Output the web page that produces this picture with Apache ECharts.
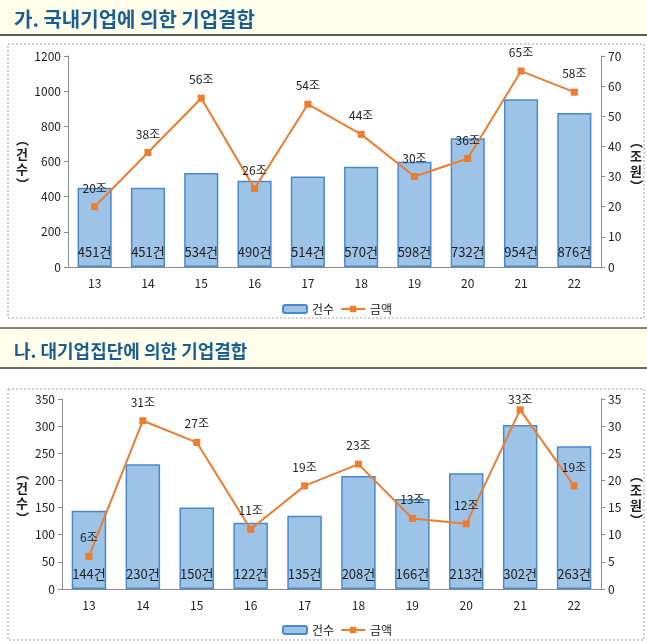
<!DOCTYPE html>
<html><head><meta charset="utf-8">
<script src="https://cdn.jsdelivr.net/npm/echarts@6/dist/echarts.min.js"></script>
<style>html,body{margin:0;padding:0;background:#fff}#c{width:647px;height:641px}</style>
</head><body><div id="c"></div>
<script>
const categories = ['13','14','15','16','17','18','19','20','21','22'];
const domesticCount = [451,451,534,490,514,570,598,732,954,876];
const domesticAmount = [20,38,56,26,54,44,30,36,65,58];
const groupCount = [144,230,150,122,135,208,166,213,302,263];
const groupAmount = [6,31,27,11,19,23,13,12,33,19];
const title1 = '가. 국내기업에 의한 기업결합';
const title2 = '나. 대기업집단에 의한 기업결합';
const countName = '건수';
const amountName = '금액';

const FONT = '"Noto Sans CJK KR", sans-serif';
const axisColor = '#8c8c8c';
const txt = '#222';

function yAxis(gi, min, max, interval, right) {
  return {
    type: 'value', gridIndex: gi, min: min, max: max, interval: interval,
    position: right ? 'right' : 'left',
    axisLine: {show: true, lineStyle: {color: axisColor}},
    axisTick: {show: true, length: 4, lineStyle: {color: axisColor}},
    splitLine: {show: false},
    axisLabel: {color: txt, fontSize: 12, fontFamily: FONT, margin: 7,
      formatter: function (v) { return String(v); }}
  };
}
function xAxis(gi) {
  return {
    type: 'category', gridIndex: gi, data: categories,
    axisLine: {lineStyle: {color: axisColor}},
    axisTick: {length: 4, lineStyle: {color: axisColor}},
    axisLabel: {color: txt, fontSize: 12, fontFamily: FONT, margin: 10}
  };
}
function barSeries(gi, data) {
  return {
    type: 'bar', name: countName, xAxisIndex: gi, yAxisIndex: gi * 2, data: data,
    barWidth: '64%',
    itemStyle: {color: '#9DC3E6', borderColor: '#4A8ACB', borderWidth: 1.5},
    label: {show: true, position: 'insideBottom', distance: 8, formatter: '{c}건',
      color: txt, fontSize: 13, fontFamily: FONT}
  };
}
function lineSeries(gi, data, minTop) {
  return {
    type: 'line', name: amountName, xAxisIndex: gi, yAxisIndex: gi * 2 + 1, data: data,
    symbol: 'rect', symbolSize: 7, z: 5,
    lineStyle: {color: '#ED7D31', width: 2},
    itemStyle: {color: '#ED7D31'},
    label: {show: true, position: 'top', distance: 9, formatter: '{c}조',
      color: txt, fontSize: 12, fontFamily: FONT},
    labelLayout: function (p) {
      if (p.labelRect.y < minTop) return {dy: minTop - p.labelRect.y};
      return {};
    }
  };
}
function vname(x, y, s) {
  return {type: 'text', left: x, top: y, style: {text: s, fill: txt,
    font: 'bold 13px ' + FONT, lineHeight: 15, align: 'center'}};
}

const chart = echarts.init(document.getElementById('c'));
chart.setOption({
  animation: false,
  backgroundColor: '#fff',
  title: [
    {text: title1, left: 9, top: 4, textStyle: {color: '#1B5E92', fontSize: 20, fontWeight: 'bold', fontFamily: FONT}},
    {text: title2, left: 9, top: 337, textStyle: {color: '#1B5E92', fontSize: 18, fontWeight: 'bold', fontFamily: FONT}}
  ],
  graphic: [
    {type: 'rect', z: -10, shape: {x: 0, y: 0, width: 647, height: 34}, style: {fill: '#FEFEEA'}},
    {type: 'line', z: -9, shape: {x1: 0, y1: 35, x2: 647, y2: 35}, style: {stroke: '#5a5a5a', lineWidth: 2}},
    {type: 'rect', z: -10, shape: {x: 8, y: 44, width: 636, height: 274}, style: {fill: 'none', stroke: '#a0a0a0', lineWidth: 1, lineDash: [2, 2]}},
    {type: 'line', z: -9, shape: {x1: 0, y1: 328, x2: 647, y2: 328}, style: {stroke: '#5a5a5a', lineWidth: 1.5}},
    {type: 'rect', z: -10, shape: {x: 0, y: 329, width: 647, height: 38}, style: {fill: '#FEFEEA'}},
    {type: 'line', z: -9, shape: {x1: 0, y1: 368, x2: 647, y2: 368}, style: {stroke: '#3a3a3a', lineWidth: 1.5}},
    {type: 'rect', z: -10, shape: {x: 8, y: 389, width: 636, height: 251}, style: {fill: 'none', stroke: '#a0a0a0', lineWidth: 1, lineDash: [2, 2]}},
    vname(16, 132, '︵\n건\n수\n︶'),
    vname(630, 134, '︵\n조\n원\n︶'),
    vname(16, 466, '︵\n건\n수\n︶'),
    vname(630, 468, '︵\n조\n원\n︶')
  ],
  legend: [
    {left: 277, top: 298, itemWidth: 24, itemHeight: 8, itemGap: 6,
      textStyle: {color: txt, fontSize: 12, fontFamily: FONT},
      data: [countName, amountName]},
    {left: 277, top: 619, itemWidth: 24, itemHeight: 8, itemGap: 6,
      textStyle: {color: txt, fontSize: 12, fontFamily: FONT},
      data: [countName, amountName]}
  ],
  grid: [
    {left: 68, right: 46, top: 56, height: 211},
    {left: 62, right: 46, top: 399, height: 190}
  ],
  xAxis: [xAxis(0), xAxis(1)],
  yAxis: [
    yAxis(0, 0, 1200, 200, false), yAxis(0, 0, 70, 10, true),
    yAxis(1, 0, 350, 50, false), yAxis(1, 0, 35, 5, true)
  ],
  series: [
    barSeries(0, domesticCount), lineSeries(0, domesticAmount, 46),
    barSeries(1, groupCount), lineSeries(1, groupAmount, 393)
  ]
});
</script></body></html>
